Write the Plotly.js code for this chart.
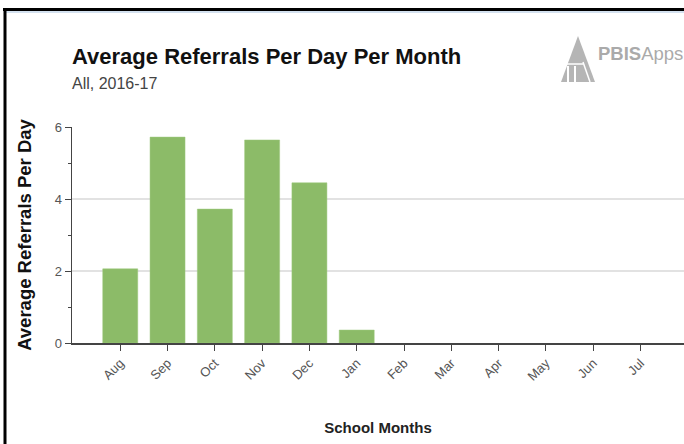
<!DOCTYPE html>
<html>
<head>
<meta charset="utf-8">
<script src="https://cdn.plot.ly/plotly-3.0.1.min.js"></script>
<style>html,body{margin:0;padding:0;background:#fff;}#chart{width:684px;height:444px;}</style>
</head>
<body>
<div id="chart"></div>
<script>
const months = ["Aug","Sep","Oct","Nov","Dec","Jan","Feb","Mar","Apr","May","Jun","Jul"];
const referralsPerDay = [2.06, 5.72, 3.72, 5.64, 4.45, 0.36, null, null, null, null, null, null];
const yTicks = [0, 2, 4, 6];

const L = 72, R = 684, T = 127, B = 343;
const px = x => (x - L) / (R - L);
const py = y => (B - y) / (B - T);
const sans = "Liberation Sans, Arial, sans-serif";

const trace = {
  type: "bar",
  x: months,
  y: referralsPerDay,
  width: 0.74,
  marker: {color: "#8cbb68", line: {color: "#9cc87c", width: 0.5}},
  hoverinfo: "x+y"
};

const layout = {
  width: 684, height: 444,
  margin: {l: L, r: 684 - R, t: T, b: 444 - B, pad: 0},
  paper_bgcolor: "#fff", plot_bgcolor: "#fff",
  showlegend: false,
  bargap: 0.26,
  title: {
    text: "<b>Average Referrals Per Day Per Month</b>",
    font: {family: sans, size: 22, color: "#111"},
    xref: "paper", x: 0, xanchor: "left",
    yref: "container", y: 1 - 56/444, yanchor: "middle"
  },
  xaxis: {
    type: "category",
    range: [-1.02, 11.92],
    showgrid: false,
    showline: true, linecolor: "#444", linewidth: 1.5,
    ticks: "outside", ticklen: 6, tickcolor: "#444", tickwidth: 1,
    tickangle: -45,
    tickfont: {family: sans, size: 13, color: "#555"},
    title: {text: "<b>School Months</b>", font: {family: sans, size: 15, color: "#222"}, standoff: 40},
    fixedrange: true
  },
  yaxis: {
    range: [0, 6],
    tickvals: yTicks,
    ticktext: yTicks.map(String),
    showgrid: true, gridcolor: "#e2e2e2", gridwidth: 1.5,
    zeroline: false,
    showline: true, linecolor: "#444", linewidth: 1.5,
    ticks: "outside", ticklen: 6, tickcolor: "#444", tickwidth: 1,
    minor: {dtick: 1, tick0: 0, ticks: "outside", ticklen: 3, tickcolor: "#444", showgrid: false},
    tickfont: {family: sans, size: 13, color: "#555"},
    title: {text: "<b>Average Referrals Per Day</b>", font: {family: sans, size: 18.5, color: "#111"}, standoff: 18},
    fixedrange: true
  },
  annotations: [
    {text: "All, 2016-17", xref: "paper", yref: "paper", x: px(70), y: py(84), xanchor: "left", yanchor: "middle",
     showarrow: false, font: {family: sans, size: 16, color: "#444"}},
    {text: "<b>PBIS</b>Apps", xref: "paper", yref: "paper", x: px(596), y: py(53), xanchor: "left", yanchor: "middle",
     showarrow: false, font: {family: sans, size: 18.5, color: "#aaa"}}
  ],
  shapes: [
    {type: "line", xref: "paper", yref: "paper", x0: px(3), x1: px(684), y0: py(9.5), y1: py(9.5), line: {color: "#000", width: 3}},
    {type: "line", xref: "paper", yref: "paper", x0: px(5), x1: px(684), y0: py(12), y1: py(12), line: {color: "#a9c4e0", width: 1}},
    {type: "line", xref: "paper", yref: "paper", x0: px(5), x1: px(5), y0: py(8), y1: py(444), line: {color: "#000", width: 3}},
    {type: "path", xref: "paper", yref: "paper",
     path: `M ${px(561)} ${py(82)} L ${px(578)} ${py(36)} L ${px(595)} ${py(82)} Z`,
     fillcolor: "#b5b5b5", line: {width: 0}},
    {type: "line", xref: "paper", yref: "paper", x0: px(568), x1: px(568), y0: py(66), y1: py(82), line: {color: "#fff", width: 2}},
    {type: "line", xref: "paper", yref: "paper", x0: px(575), x1: px(575), y0: py(66), y1: py(82), line: {color: "#fff", width: 2}},
    {type: "line", xref: "paper", yref: "paper", x0: px(563), x1: px(583), y0: py(64), y1: py(64), line: {color: "#fff", width: 1.5}},
    {type: "line", xref: "paper", yref: "paper", x0: px(583), x1: px(590), y0: py(62), y1: py(82), line: {color: "#fff", width: 1.5}}
  ]
};

Plotly.newPlot("chart", [trace], layout, {displayModeBar: false, staticPlot: true});
</script>
</body>
</html>
